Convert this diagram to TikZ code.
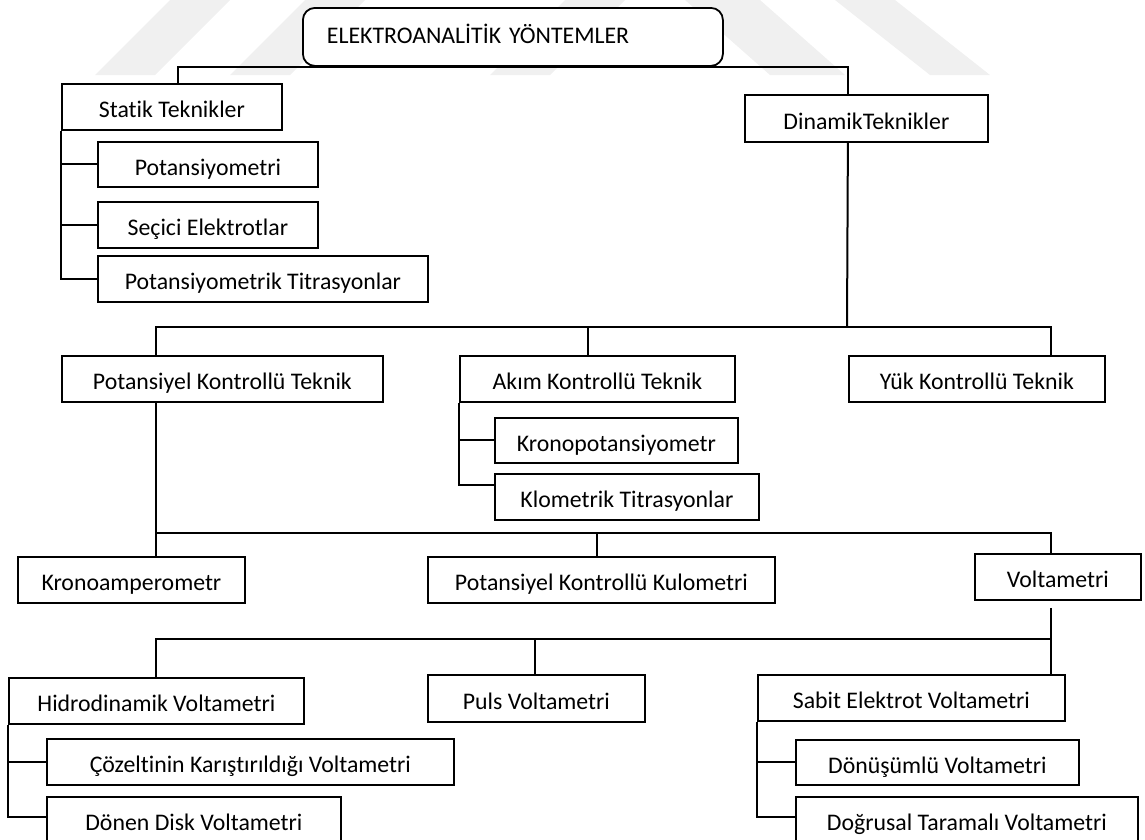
\documentclass[tikz,border=0pt]{standalone}
\usepackage{fontspec}
\setmainfont{Carlito}[Ligatures={NoCommon}]
\begin{document}
\begin{tikzpicture}[x=1pt,y=-1pt,
  bx/.style={draw, fill=white, line width=1.8pt, inner sep=0pt, text height=24pt, text depth=2pt,
    minimum height=46pt, anchor=north west, font=\fontsize{23.8pt}{28pt}\selectfont},
  ln/.style={line width=2pt},
  wm/.style={fill=black!6, draw=none}]
\useasboundingbox (0,0) rectangle (1145,839);
\clip (0,0) rectangle (1145,839);
% faint watermark bands
\fill[wm] (95,75) -- (155,75) -- (230,0) -- (170,0) -- cycle;
\fill[wm] (230,75) -- (290,75) -- (365,0) -- (305,0) -- cycle;
\fill[wm] (490,75) -- (550,75) -- (625,0) -- (565,0) -- cycle;
\fill[wm] (685,0) -- (760,0) -- (845,75) -- (770,75) -- cycle;
\fill[wm] (835,0) -- (895,0) -- (990,75) -- (930,75) -- cycle;

% nodes
\node[bx, rounded corners=12pt, minimum width=420pt, minimum height=58pt, text width=372pt,
  inner xsep=24pt, align=left, text height=16pt, text depth=2pt] (top) at (302,7) {ELEKTROANALİTİK YÖNTEMLER};
\node[bx, minimum width=220pt] (statik) at (61,83) {Statik Teknikler};
\node[bx, minimum width=220pt, minimum height=45pt] (potm) at (97,141) {Potansiyometri};
\node[bx, minimum width=220pt] (secici) at (97,201) {Seçici Elektrotlar};
\node[bx, minimum width=330pt] (pottit) at (97,255) {Potansiyometrik Titrasyonlar};
\node[bx, minimum width=243pt, minimum height=47pt] (dinamik) at (744,94) {DinamikTeknikler};
\node[bx, minimum width=321pt] (potkont) at (61,355) {Potansiyel Kontrollü Teknik};
\node[bx, minimum width=275pt] (akim) at (459,355) {Akım Kontrollü Teknik};
\node[bx, minimum width=256pt] (yuk) at (848,355) {Yük Kontrollü Teknik};
\node[bx, minimum width=243pt, minimum height=45pt] (krono) at (494,417) {Kronopotansiyometr};
\node[bx, minimum width=264pt] (klom) at (494,473) {Klometrik Titrasyonlar};
\node[bx, minimum width=227pt] (kronoamp) at (17,556) {Kronoamperometr};
\node[bx, minimum width=347pt] (kulo) at (427,556) {Potansiyel Kontrollü Kulometri};
\node[bx, minimum width=166pt] (volt) at (974,553) {Voltametri};
\node[bx, minimum width=295pt] (hidro) at (8,677) {Hidrodinamik Voltametri};
\node[bx, minimum width=217pt, minimum height=47pt] (puls) at (427,674) {Puls Voltametri};
\node[bx, minimum width=307pt] (sabit) at (757,674) {Sabit Elektrot Voltametri};
\node[bx, minimum width=407pt] (cozel) at (46,738) {Çözeltinin Karıştırıldığı Voltametri};
\node[bx, minimum width=294pt] (donen) at (46,796) {Dönen Disk Voltametri};
\node[bx, minimum width=283pt, minimum height=45pt] (donus) at (795,739) {Dönüşümlü Voltametri};
\node[bx, minimum width=342pt] (dogr) at (795,796) {Doğrusal Taramalı Voltametri};

% connectors
\draw[ln] ([xshift=6pt]statik.north) |- (top.south) -| ([xshift=-18.5pt]dinamik.north);
\draw[ln] (statik.south west) |- (potm.west);
\draw[ln] (statik.south west) |- (secici.west);
\draw[ln] (statik.south west) |- (pottit.west);

\coordinate (b1) at (847,327);
\draw[ln] ([xshift=-18.5pt]dinamik.south) -- (b1);
\draw[ln] ([xshift=-66.5pt]potkont.north) |- (b1);
\draw[ln] ([xshift=74pt]yuk.north) |- (b1);
\draw[ln] ([xshift=-9.5pt]akim.north) -- ([xshift=-9.5pt]akim.north |- b1);

\draw[ln] (akim.south west) |- (krono.west);
\draw[ln] (akim.south west) |- ([yshift=-12pt]klom.north west);

\coordinate (b2) at (155,533);
\draw[ln] ([xshift=-66.5pt]potkont.south) -- ([xshift=24.5pt]kronoamp.north);
\draw[ln] ([xshift=-4.5pt]kulo.north) |- (b2);
\draw[ln] ([xshift=-7pt]volt.north) |- (b2);

\coordinate (b3) at (1050,639);
\draw[ln] ([xshift=-7pt,yshift=-7pt]volt.south) -- ([xshift=139.5pt]sabit.north);
\draw[ln] (hidro.north) |- (b3);
\draw[ln] ([xshift=-1.5pt]puls.north) -- ([xshift=-1.5pt]puls.north |- b3);

\draw[ln] (hidro.south west) |- (cozel.west);
\draw[ln] (hidro.south west) |- ([yshift=-21pt]donen.north west);
\draw[ln] (sabit.south west) |- (donus.west);
\draw[ln] (sabit.south west) |- ([yshift=-21pt]dogr.north west);
\end{tikzpicture}
\end{document}
